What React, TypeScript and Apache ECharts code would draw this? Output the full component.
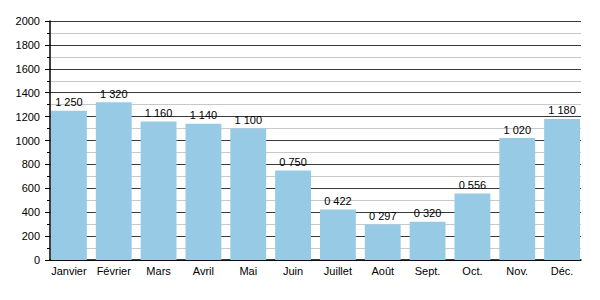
import React, { useEffect, useRef } from "react";
import * as echarts from "echarts";

const months = ["Janvier", "Février", "Mars", "Avril", "Mai", "Juin", "Juillet", "Août", "Sept.", "Oct.", "Nov.", "Déc."];
const values = [1250, 1320, 1160, 1140, 1100, 750, 422, 297, 320, 556, 1020, 1180];

const fmt = (v: number) => {
  const th = Math.floor(v / 1000);
  const rest = String(v % 1000).padStart(3, "0");
  return th + " " + rest;
};

export default function App() {
  const ref = useRef<HTMLDivElement>(null);
  useEffect(() => {
    const chart = echarts.init(ref.current!, null, { renderer: "svg" });
    const font = "Liberation Sans, Arial, sans-serif";
    chart.setOption({
      animation: false,
      textStyle: { fontFamily: font },
      grid: [
        { left: 50, right: 19, top: 21, bottom: 40 },
        { left: 46.5, right: 15.5, top: 21, bottom: 40 },
      ],
      xAxis: [
        {
          type: "value",
          gridIndex: 0,
          min: 0,
          max: 1,
          axisLine: { show: true, onZero: false, lineStyle: { color: "#000", width: 1.5 } },
          axisTick: { show: false },
          axisLabel: { show: false },
          splitLine: { show: false },
        },
        {
          type: "category",
          gridIndex: 1,
          data: months,
          axisLine: { show: false },
          axisTick: { show: false },
          axisLabel: { color: "#000", fontSize: 11, fontFamily: font, margin: 5, interval: 0 },
        },
      ],
      yAxis: [
        {
          type: "value",
          gridIndex: 0,
          min: 0,
          max: 2000,
          interval: 200,
          axisLine: { show: true, lineStyle: { color: "#000", width: 1.5 } },
          axisTick: { show: true, length: 5, lineStyle: { color: "#000" } },
          minorTick: { show: true, splitNumber: 2, length: 3, lineStyle: { color: "#000" } },
          splitLine: { show: true, lineStyle: { color: "#3a3a3a", width: 1 } },
          minorSplitLine: { show: true, lineStyle: { color: "#c8c8c8", width: 1 } },
          axisLabel: { color: "#000", fontSize: 11, fontFamily: font, margin: 10, formatter: (v: number) => String(v) },
        },
        {
          type: "value",
          gridIndex: 1,
          min: 0,
          max: 2000,
          show: false,
          splitLine: { show: false },
        },
      ],
      series: [
        {
          type: "bar",
          xAxisIndex: 1,
          yAxisIndex: 1,
          data: values,
          barCategoryGap: "20%",
          itemStyle: { color: "#97cbe5" },
          label: {
            show: true,
            position: "top",
            distance: 3,
            color: "#000",
            fontSize: 11,
            fontFamily: font,
            formatter: (p: any) => fmt(p.value),
          },
        },
      ],
    });
    return () => chart.dispose();
  }, []);
  return <div ref={ref} style={{ width: 600, height: 300, position: "absolute", left: 0, top: 0 }} />;
}
